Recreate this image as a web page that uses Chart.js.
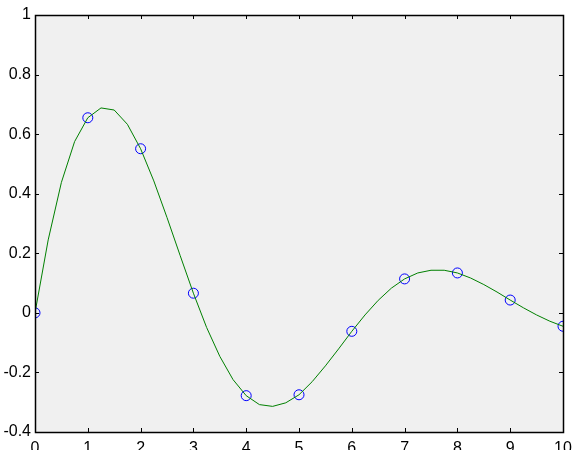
<!DOCTYPE html>
<html>
<head>
<meta charset="utf-8">
<script src="https://cdn.jsdelivr.net/npm/chart.js@4/dist/chart.umd.min.js"></script>
<style>
  html, body { margin: 0; padding: 0; background: #ffffff; }
  #wrap { width: 573px; height: 450px; }
</style>
</head>
<body>
<div id="wrap"><canvas id="c" width="573" height="450"></canvas></div>
<script>
// Sample points
const sampleX = [0, 1, 2, 3, 4, 5, 6, 7, 8, 9, 10];
const sampleY = [0, 0.655, 0.551, 0.066, -0.278, -0.275, -0.062, 0.114, 0.134, 0.043, -0.045];

// Smooth curve through the samples, at quarter steps
const curveX = [0, 0.25, 0.5, 0.75, 1, 1.25, 1.5, 1.75, 2, 2.25, 2.5, 2.75, 3, 3.25, 3.5, 3.75,
  4, 4.25, 4.5, 4.75, 5, 5.25, 5.5, 5.75, 6, 6.25, 6.5, 6.75, 7, 7.25, 7.5, 7.75,
  8, 8.25, 8.5, 8.75, 9, 9.25, 9.5, 9.75, 10];
const curveY = [0, 0.245, 0.438, 0.575, 0.655, 0.688, 0.681, 0.633, 0.551, 0.443, 0.320, 0.192,
  0.066, -0.049, -0.146, -0.224, -0.278, -0.308, -0.314, -0.302, -0.275, -0.231, -0.178, -0.121,
  -0.062, -0.007, 0.042, 0.083, 0.114, 0.134, 0.143, 0.143, 0.134, 0.117, 0.095, 0.070,
  0.043, 0.017, -0.007, -0.028, -0.045];

// Axis ticks
const xTicks = [0, 1, 2, 3, 4, 5, 6, 7, 8, 9, 10];
const yTicks = [-0.4, -0.2, 0, 0.2, 0.4, 0.6, 0.8, 1];
const yTickLabels = ['-0.4', '-0.2', '0', '0.2', '0.4', '0.6', '0.8', '1'];

const FONT = { family: '"Liberation Sans", Arial, sans-serif', size: 16 };

// Grey plot area, black box and inward tick marks on all four sides
const framePlugin = {
  id: 'frame',
  beforeDraw(chart) {
    const { ctx, chartArea: a } = chart;
    ctx.save();
    ctx.fillStyle = '#f0f0f0';
    ctx.fillRect(a.left, a.top, a.right - a.left, a.bottom - a.top);
    ctx.restore();
  },
  afterDraw(chart) {
    const { ctx, chartArea: a, scales } = chart;
    const len = 4;
    ctx.save();
    ctx.strokeStyle = '#000000';
    ctx.lineWidth = 1;
    ctx.beginPath();
    xTicks.forEach(v => {
      const px = Math.round(scales.x.getPixelForValue(v)) + 0.5;
      ctx.moveTo(px, a.bottom); ctx.lineTo(px, a.bottom - len);
      ctx.moveTo(px, a.top); ctx.lineTo(px, a.top + len);
    });
    yTicks.forEach(v => {
      const py = Math.round(scales.y.getPixelForValue(v)) + 0.5;
      ctx.moveTo(a.left, py); ctx.lineTo(a.left + len, py);
      ctx.moveTo(a.right, py); ctx.lineTo(a.right - len, py);
    });
    ctx.stroke();
    ctx.lineWidth = 1.5;
    ctx.strokeRect(Math.round(a.left) + 0.5, Math.round(a.top) + 0.5,
      Math.round(a.right - a.left), Math.round(a.bottom - a.top));
    ctx.restore();
  }
};

new Chart(document.getElementById('c'), {
  type: 'scatter',
  data: {
    datasets: [
      {
        data: curveX.map((x, i) => ({ x, y: curveY[i] })),
        showLine: true,
        borderColor: '#008000',
        borderWidth: 1,
        pointRadius: 0,
        tension: 0,
        fill: false
      },
      {
        data: sampleX.map((x, i) => ({ x, y: sampleY[i] })),
        showLine: false,
        pointStyle: 'circle',
        pointRadius: 5,
        pointBorderColor: '#0000ff',
        pointBackgroundColor: 'rgba(0,0,0,0)',
        pointBorderWidth: 1
      }
    ]
  },
  options: {
    responsive: false,
    animation: false,
    events: [],
    layout: { padding: { top: 15, right: 10, left: 0, bottom: 0 } },
    plugins: { legend: { display: false }, tooltip: { enabled: false } },
    scales: {
      x: {
        type: 'linear',
        min: 0, max: 10,
        grid: { display: false, drawTicks: false, tickLength: 0 },
        border: { display: false },
        afterBuildTicks(scale) { scale.ticks = xTicks.map(v => ({ value: v })); },
        afterFit(scale) {
          scale.height = 18;
          scale.paddingLeft = 0;
          scale.paddingRight = 0;
        },
        ticks: {
          color: '#000000', font: FONT, padding: 7, maxRotation: 0,
          callback: v => String(v)
        }
      },
      y: {
        type: 'linear',
        min: -0.4, max: 1,
        grid: { display: false, drawTicks: false, tickLength: 0 },
        border: { display: false },
        afterBuildTicks(scale) { scale.ticks = yTicks.map(v => ({ value: v })); },
        afterFit(scale) { scale.width = 35; },
        ticks: {
          color: '#000000', font: FONT, padding: 4,
          callback: (v) => {
            const i = yTicks.findIndex(t => Math.abs(t - v) < 1e-9);
            return i >= 0 ? yTickLabels[i] : '';
          }
        }
      }
    }
  },
  plugins: [framePlugin]
});
</script>
</body>
</html>
